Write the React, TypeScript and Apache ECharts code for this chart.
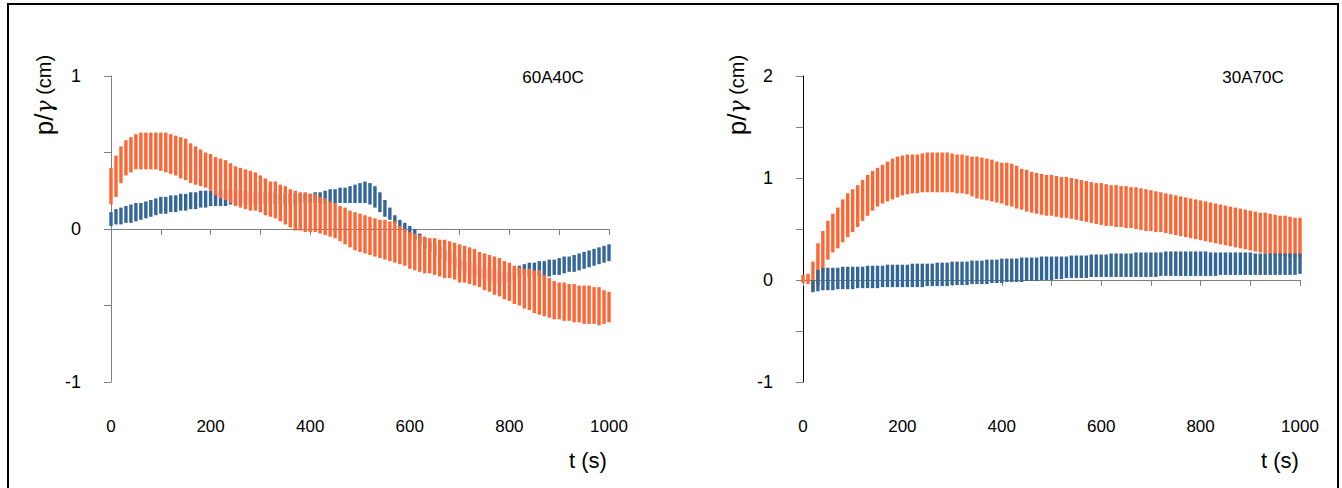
import React, { useEffect, useRef } from "react";
import * as echarts from "echarts";

// time samples (s)
const TIMES = [
  0, 10, 20, 30, 40, 50, 60, 70, 80, 90, 100, 110, 120, 130, 140, 150, 160, 170, 180, 190,
  200, 210, 220, 230, 240, 250, 260, 270, 280, 290, 300, 310, 320, 330, 340, 350, 360, 370, 380, 390,
  400, 410, 420, 430, 440, 450, 460, 470, 480, 490, 500, 510, 520, 530, 540, 550, 560, 570, 580, 590,
  600, 610, 620, 630, 640, 650, 660, 670, 680, 690, 700, 710, 720, 730, 740, 750, 760, 770, 780, 790,
  800, 810, 820, 830, 840, 850, 860, 870, 880, 890, 900, 910, 920, 930, 940, 950, 960, 970, 980, 990, 1000,
];

// 60A40C – orange band (upper / lower envelope, cm)
const L_ORANGE_HI = [
  0.40, 0.48, 0.54, 0.58, 0.60, 0.62, 0.63, 0.63, 0.63, 0.63, 0.63, 0.63, 0.62, 0.61, 0.60, 0.59, 0.56, 0.54, 0.52, 0.50,
  0.49, 0.47, 0.46, 0.45, 0.43, 0.41, 0.40, 0.39, 0.38, 0.37, 0.35, 0.33, 0.31, 0.31, 0.29, 0.28, 0.26, 0.25, 0.24, 0.24,
  0.23, 0.23, 0.21, 0.20, 0.18, 0.17, 0.15, 0.14, 0.12, 0.11, 0.10, 0.09, 0.08, 0.07, 0.06, 0.06, 0.05, 0.05, 0.02, 0.00,
  -0.02, -0.03, -0.04, -0.05, -0.06, -0.06, -0.07, -0.07, -0.08, -0.09, -0.10, -0.11, -0.12, -0.13, -0.15, -0.16, -0.17, -0.18, -0.19, -0.21,
  -0.22, -0.24, -0.25, -0.26, -0.26, -0.27, -0.27, -0.30, -0.32, -0.34, -0.35, -0.35, -0.36, -0.36, -0.37, -0.37, -0.37, -0.38, -0.38, -0.40, -0.41,
];
const L_ORANGE_LO = [
  0.16, 0.21, 0.30, 0.35, 0.37, 0.39, 0.39, 0.39, 0.39, 0.39, 0.38, 0.37, 0.36, 0.35, 0.33, 0.32, 0.30, 0.29, 0.28, 0.27,
  0.25, 0.22, 0.20, 0.19, 0.17, 0.15, 0.14, 0.13, 0.12, 0.12, 0.11, 0.09, 0.08, 0.07, 0.05, 0.03, 0.01, -0.01, -0.01, -0.02,
  -0.02, -0.02, -0.03, -0.04, -0.05, -0.06, -0.08, -0.10, -0.12, -0.14, -0.15, -0.16, -0.17, -0.18, -0.19, -0.20, -0.21, -0.22, -0.23, -0.24,
  -0.26, -0.27, -0.28, -0.29, -0.29, -0.30, -0.31, -0.32, -0.32, -0.33, -0.35, -0.35, -0.36, -0.37, -0.38, -0.40, -0.41, -0.43, -0.44, -0.46,
  -0.47, -0.49, -0.50, -0.52, -0.53, -0.55, -0.56, -0.57, -0.58, -0.59, -0.59, -0.60, -0.60, -0.61, -0.61, -0.62, -0.62, -0.62, -0.63, -0.62, -0.61,
];

// 60A40C – blue band
const L_BLUE_HI = [
  0.11, 0.13, 0.14, 0.15, 0.16, 0.17, 0.17, 0.18, 0.19, 0.20, 0.21, 0.21, 0.22, 0.22, 0.23, 0.23, 0.24, 0.24, 0.25, 0.25,
  0.25, 0.25, 0.25, 0.25, 0.25, 0.26, 0.25, 0.25, 0.24, 0.24, 0.24, 0.24, 0.24, 0.24, 0.23, 0.23, 0.23, 0.23, 0.23, 0.23,
  0.23, 0.24, 0.24, 0.25, 0.26, 0.26, 0.27, 0.27, 0.28, 0.29, 0.30, 0.31, 0.30, 0.28, 0.24, 0.19, 0.14, 0.09, 0.06, 0.04,
  0.02, 0.00, -0.03, -0.06, -0.08, -0.10, -0.12, -0.14, -0.16, -0.18, -0.20, -0.21, -0.22, -0.23, -0.24, -0.25, -0.26, -0.27, -0.28, -0.28,
  -0.28, -0.26, -0.24, -0.23, -0.22, -0.22, -0.21, -0.21, -0.20, -0.20, -0.19, -0.18, -0.18, -0.17, -0.16, -0.15, -0.14, -0.13, -0.12, -0.11, -0.10,
];
const L_BLUE_LO = [
  0.02, 0.03, 0.03, 0.04, 0.04, 0.05, 0.06, 0.07, 0.08, 0.09, 0.10, 0.10, 0.11, 0.11, 0.12, 0.12, 0.13, 0.13, 0.14, 0.14,
  0.15, 0.15, 0.15, 0.15, 0.16, 0.16, 0.16, 0.16, 0.16, 0.16, 0.16, 0.16, 0.16, 0.16, 0.16, 0.16, 0.16, 0.16, 0.17, 0.17,
  0.17, 0.17, 0.17, 0.17, 0.17, 0.17, 0.17, 0.17, 0.17, 0.17, 0.17, 0.17, 0.16, 0.14, 0.11, 0.08, 0.06, 0.04, 0.01, -0.02,
  -0.04, -0.07, -0.10, -0.13, -0.15, -0.17, -0.19, -0.21, -0.23, -0.25, -0.27, -0.28, -0.30, -0.31, -0.32, -0.33, -0.34, -0.35, -0.36, -0.36,
  -0.35, -0.33, -0.31, -0.30, -0.31, -0.31, -0.31, -0.31, -0.31, -0.30, -0.30, -0.29, -0.28, -0.28, -0.27, -0.26, -0.25, -0.24, -0.23, -0.22, -0.21,
];

// 30A70C – orange band
const R_ORANGE_HI = [
  0.05, 0.06, 0.18, 0.36, 0.48, 0.58, 0.65, 0.71, 0.79, 0.85, 0.89, 0.93, 0.98, 1.03, 1.07, 1.10, 1.13, 1.16, 1.19, 1.21,
  1.22, 1.23, 1.23, 1.23, 1.24, 1.25, 1.25, 1.25, 1.25, 1.25, 1.24, 1.23, 1.23, 1.22, 1.21, 1.21, 1.20, 1.19, 1.18, 1.16,
  1.15, 1.15, 1.14, 1.12, 1.09, 1.08, 1.06, 1.05, 1.04, 1.03, 1.03, 1.02, 1.01, 1.01, 1.00, 0.99, 0.98, 0.97, 0.96, 0.95,
  0.95, 0.94, 0.93, 0.93, 0.92, 0.92, 0.91, 0.91, 0.90, 0.89, 0.88, 0.87, 0.86, 0.85, 0.84, 0.83, 0.82, 0.81, 0.80, 0.79,
  0.78, 0.77, 0.76, 0.75, 0.74, 0.73, 0.72, 0.71, 0.70, 0.69, 0.68, 0.67, 0.66, 0.66, 0.65, 0.64, 0.63, 0.63, 0.62, 0.61, 0.61,
];
const R_ORANGE_LO = [
  -0.03, -0.04, -0.11, -0.05, 0.08, 0.20, 0.27, 0.31, 0.37, 0.42, 0.47, 0.52, 0.58, 0.63, 0.68, 0.72, 0.75, 0.77, 0.79, 0.81,
  0.83, 0.84, 0.85, 0.85, 0.86, 0.86, 0.86, 0.86, 0.86, 0.86, 0.86, 0.85, 0.85, 0.84, 0.82, 0.80, 0.79, 0.78, 0.77, 0.76,
  0.75, 0.73, 0.72, 0.70, 0.69, 0.67, 0.66, 0.65, 0.64, 0.63, 0.63, 0.62, 0.61, 0.61, 0.60, 0.59, 0.58, 0.57, 0.56, 0.55,
  0.54, 0.53, 0.53, 0.52, 0.52, 0.51, 0.51, 0.50, 0.49, 0.48, 0.48, 0.47, 0.47, 0.46, 0.45, 0.44, 0.43, 0.42, 0.41, 0.40,
  0.39, 0.38, 0.37, 0.36, 0.35, 0.34, 0.33, 0.32, 0.31, 0.30, 0.29, 0.28, 0.27, 0.26, 0.25, 0.24, 0.23, 0.23, 0.22, 0.22, 0.22,
];

// 30A70C – blue band (no record for the first 20 s)
const R_BLUE_HI = [
  null, null, 0.00, 0.10, 0.12, 0.12, 0.12, 0.12, 0.13, 0.13, 0.13, 0.13, 0.13, 0.14, 0.14, 0.14, 0.14, 0.15, 0.15, 0.15,
  0.15, 0.15, 0.16, 0.16, 0.16, 0.16, 0.16, 0.17, 0.17, 0.17, 0.18, 0.18, 0.18, 0.18, 0.19, 0.19, 0.19, 0.20, 0.20, 0.20,
  0.21, 0.21, 0.21, 0.21, 0.22, 0.22, 0.22, 0.22, 0.23, 0.23, 0.23, 0.23, 0.23, 0.23, 0.24, 0.24, 0.24, 0.24, 0.25, 0.25,
  0.25, 0.25, 0.26, 0.26, 0.26, 0.26, 0.26, 0.27, 0.27, 0.27, 0.27, 0.27, 0.27, 0.28, 0.28, 0.28, 0.28, 0.28, 0.28, 0.28,
  0.28, 0.28, 0.27, 0.27, 0.27, 0.27, 0.27, 0.27, 0.27, 0.27, 0.27, 0.26, 0.26, 0.26, 0.26, 0.26, 0.26, 0.26, 0.26, 0.26, 0.26,
];
const R_BLUE_LO = [
  null, null, -0.12, -0.11, -0.10, -0.10, -0.10, -0.09, -0.09, -0.09, -0.09, -0.08, -0.08, -0.08, -0.08, -0.08, -0.07, -0.07, -0.07, -0.07,
  -0.07, -0.07, -0.07, -0.07, -0.07, -0.06, -0.06, -0.06, -0.06, -0.06, -0.05, -0.05, -0.05, -0.05, -0.04, -0.04, -0.04, -0.04, -0.03, -0.03,
  -0.03, -0.02, -0.02, -0.02, -0.02, -0.01, -0.01, -0.01, 0.00, 0.00, 0.00, 0.01, 0.01, 0.02, 0.02, 0.02, 0.02, 0.02, 0.03, 0.03,
  0.03, 0.03, 0.03, 0.03, 0.03, 0.03, 0.03, 0.03, 0.03, 0.03, 0.03, 0.03, 0.04, 0.04, 0.04, 0.04, 0.04, 0.04, 0.04, 0.04,
  0.04, 0.04, 0.04, 0.04, 0.05, 0.05, 0.05, 0.05, 0.05, 0.05, 0.05, 0.05, 0.05, 0.05, 0.05, 0.05, 0.05, 0.05, 0.05, 0.05, 0.06,
];

const X_TICKS = ["0", "200", "400", "600", "800", "1000"];
const PANEL_LABELS = ["60A40C", "30A70C"];

const ORANGE = "#FF6633";
const BLUE = "#336699";
const AXIS_GRAY = "#808080";
const FONT = "'Liberation Sans', Arial, sans-serif";

function band(hi: (number | null)[], lo: (number | null)[]) {
  const out: number[][] = [];
  TIMES.forEach((t, i) => {
    if (hi[i] != null && lo[i] != null) out.push([t, hi[i] as number, lo[i] as number]);
  });
  return out;
}

function bandSeries(name: string, gi: number, hi: any[], lo: any[], color: string) {
  return {
    type: "custom",
    name,
    xAxisIndex: gi,
    yAxisIndex: gi,
    data: band(hi, lo),
    encode: { x: 0, y: [1, 2] },
    clip: false,
    renderItem: (params: any, api: any) => {
      const t = api.value(0);
      const a = api.coord([t, api.value(1)]);
      const b = api.coord([t, api.value(2)]);
      return {
        type: "rect",
        shape: { x: a[0] - 1.7, y: a[1], width: 3.4, height: b[1] - a[1] },
        style: { fill: color },
      };
    },
  };
}

function xAxis(gi: number) {
  return {
    type: "value",
    gridIndex: gi,
    min: 0,
    max: 1000,
    interval: 100,
    axisLine: { lineStyle: { color: AXIS_GRAY, width: 1 } },
    axisTick: { length: 6, lineStyle: { color: AXIS_GRAY } },
    splitLine: { show: false },
    axisLabel: {
      margin: 36,
      color: "#000",
      fontSize: 17,
      fontFamily: FONT,
      formatter: (v: number) => (X_TICKS.includes(String(v)) ? String(v) : ""),
    },
  };
}

function yAxis(gi: number, min: number, max: number, lineColor: string) {
  return {
    type: "value",
    gridIndex: gi,
    min,
    max,
    interval: 0.5,
    axisLine: { show: true, lineStyle: { color: lineColor, width: 1 } },
    axisTick: { show: true, length: 7, lineStyle: { color: AXIS_GRAY } },
    splitLine: { show: false },
    axisLabel: {
      margin: 30,
      color: "#000",
      fontSize: 18,
      fontFamily: FONT,
      formatter: (v: number) => (Number.isInteger(v) ? String(v) : ""),
    },
  };
}

function yTitle(x: number, y: number) {
  return {
    type: "text",
    x,
    y,
    rotation: Math.PI / 2,
    style: {
      text: "{a|p/}{b|γ}{c| (cm)}",
      align: "center",
      verticalAlign: "middle",
      rich: {
        a: { fontSize: 26, fontFamily: FONT, fill: "#000" },
        b: { fontSize: 22, fontFamily: "'DejaVu Serif', serif", fontStyle: "italic", fill: "#000" },
        c: { fontSize: 20, fontFamily: FONT, fill: "#000" },
      },
    },
  };
}

function plainText(text: string, x: number, y: number, size: number) {
  return {
    type: "text",
    x,
    y,
    style: { text, fontSize: size, fontFamily: FONT, fill: "#000", align: "center", verticalAlign: "middle" },
  };
}

export default function App() {
  const ref = useRef<HTMLDivElement>(null);
  useEffect(() => {
    if (!ref.current) return;
    const chart = echarts.init(ref.current, null, { renderer: "svg" });
    chart.setOption({
      animation: false,
      backgroundColor: "#fff",
      grid: [
        { left: 111, top: 76, width: 498, height: 306 },
        { left: 803, top: 76, width: 497, height: 306 },
      ],
      xAxis: [xAxis(0), xAxis(1)],
      yAxis: [yAxis(0, -1, 1, AXIS_GRAY), yAxis(1, -1, 2, "#000")],
      series: [
        bandSeries("60A40C blue", 0, L_BLUE_HI, L_BLUE_LO, BLUE),
        bandSeries("60A40C orange", 0, L_ORANGE_HI, L_ORANGE_LO, ORANGE),
        bandSeries("30A70C orange", 1, R_ORANGE_HI, R_ORANGE_LO, ORANGE),
        bandSeries("30A70C blue", 1, R_BLUE_HI, R_BLUE_LO, BLUE),
      ],
      graphic: [
        {
          type: "rect",
          shape: { x: 8, y: 4, width: 1330, height: 600 },
          style: { fill: "none", stroke: "#000", lineWidth: 2 },
        },
        yTitle(44, 95),
        yTitle(737, 95),
        plainText(PANEL_LABELS[0], 553, 77, 17),
        plainText(PANEL_LABELS[1], 1253, 77, 17),
        plainText("t (s)", 588, 460, 22),
        plainText("t (s)", 1280, 460, 22),
      ],
    });
    return () => chart.dispose();
  }, []);
  return (
    <div
      ref={ref}
      style={{ position: "fixed", left: 0, top: 0, width: 1342, height: 488, background: "#fff" }}
    />
  );
}
